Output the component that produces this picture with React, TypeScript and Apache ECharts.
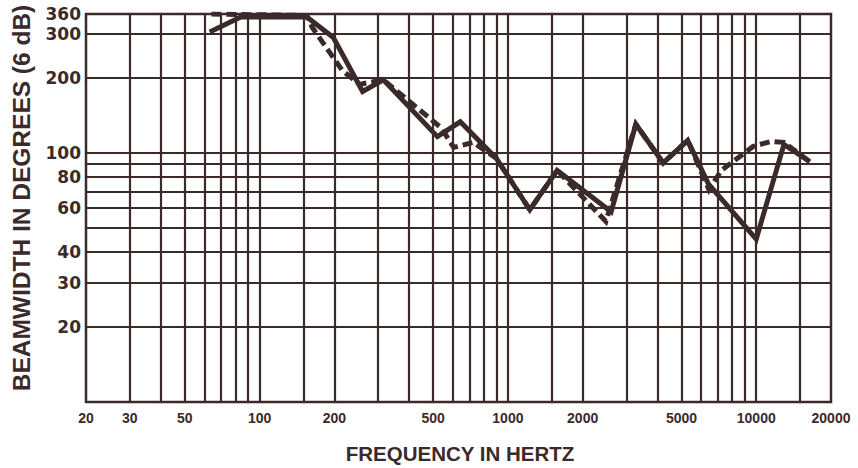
import React, { useEffect, useRef } from "react";
import * as echarts from "echarts";

// Tick labels and grid positions
const xLabelValues = [20, 30, 50, 100, 200, 500, 1000, 2000, 5000, 10000, 20000];
const xGridValues = [30, 40, 50, 60, 70, 80, 90, 100, 150, 200, 300, 400, 500, 600, 700, 800, 900, 1000, 1500, 2000, 3000, 4000, 5000, 6000, 7000, 8000, 9000, 10000, 15000];
const yLabelValues = [20, 30, 40, 60, 80, 100, 200, 300, 360];
const yGridValues = [20, 30, 40, 50, 60, 70, 80, 90, 100, 200, 300];

// Solid curve
const solidFreq = [63, 84, 155, 198, 260, 315, 520, 643, 898, 1225, 1578, 2604, 3275, 4220, 5295, 6415, 10000, 12930, 16440];
const solidBeam = [305, 350, 350, 290, 176, 196, 116, 133, 95, 59, 85, 58, 130, 91, 112, 75, 45, 108, 92];

// Dashed curve
const dashedFreq = [64, 155, 163, 215, 253, 315, 538, 605, 726, 898, 1225, 1578, 2480, 3275, 4220, 5295, 6450, 7240, 9720, 11500, 12930, 16440];
const dashedBeam = [360, 355, 318, 214, 188, 196, 126, 105, 110, 95, 59, 85, 53, 130, 91, 112, 71, 85, 106, 111, 110, 92];

const INK = "#3b2a2a";

export default function App() {
  const ref = useRef<HTMLDivElement>(null);
  useEffect(() => {
    if (!ref.current) return;
    const chart = echarts.init(ref.current, undefined, { renderer: "svg" });
    chart.setOption({
      animation: false,
      backgroundColor: "#ffffff",
      grid: {
        left: 86,
        right: 27,
        top: 14,
        bottom: 66,
        show: true,
        borderColor: INK,
        borderWidth: 2.5,
        backgroundColor: "transparent",
      },
      xAxis: {
        type: "log",
        logBase: 10,
        min: 20,
        max: 20000,
        axisLine: { show: false },
        axisTick: { show: false },
        splitLine: { show: false },
        axisLabel: {
          customValues: xLabelValues,
          showMinLabel: true,
          showMaxLabel: true,
          margin: 9,
          color: INK,
          fontFamily: "'Liberation Sans', Arial, sans-serif",
          fontWeight: "bold",
          fontSize: 14,
          formatter: (v: number) => String(Math.round(v)),
        },
      },
      yAxis: {
        type: "log",
        logBase: 10,
        min: 10,
        max: 360,
        axisLine: { show: false },
        axisTick: { show: false },
        splitLine: { show: false },
        axisLabel: {
          customValues: yLabelValues,
          showMinLabel: true,
          showMaxLabel: true,
          margin: 5,
          color: INK,
          fontFamily: "'DejaVu Sans', sans-serif",
          fontWeight: "bold",
          fontSize: 17,
          formatter: (v: number) => String(Math.round(v)),
        },
      },
      graphic: [
        {
          type: "text",
          x: 460,
          y: 453,
          style: {
            text: "FREQUENCY IN HERTZ",
            fill: INK,
            font: "bold 20.5px 'Liberation Sans', Arial, sans-serif",
            textAlign: "center",
            textVerticalAlign: "middle",
          },
        },
        {
          type: "text",
          x: 21,
          y: 198,
          rotation: Math.PI / 2,
          style: {
            text: "BEAMWIDTH IN DEGREES (6 dB)",
            fill: INK,
            font: "bold 24.5px 'Liberation Sans', Arial, sans-serif",
            textAlign: "center",
            textVerticalAlign: "middle",
          },
        },
      ],
      series: [
        {
          type: "line",
          name: "grid",
          data: [],
          z: 1,
          silent: true,
          markLine: {
            silent: true,
            symbol: ["none", "none"],
            label: { show: false },
            lineStyle: { color: INK, width: 2.2, type: "solid" },
            emphasis: { disabled: true },
            data: [
              ...xGridValues.map((v) => ({ xAxis: v })),
              ...yGridValues.map((v) => ({ yAxis: v })),
            ],
          },
        },
        {
          type: "line",
          name: "solid",
          z: 5,
          symbol: "none",
          data: solidFreq.map((f, i) => [f, solidBeam[i]]),
          lineStyle: { color: INK, width: 5, join: "miter" },
        },
        {
          type: "line",
          name: "dashed",
          z: 4,
          symbol: "none",
          data: dashedFreq.map((f, i) => [f, dashedBeam[i]]),
          lineStyle: { color: INK, width: 5, type: [10, 5], join: "miter" },
        },
      ],
    });
    return () => chart.dispose();
  }, []);
  return (
    <div
      ref={ref}
      style={{ position: "absolute", left: 0, top: 0, width: 858, height: 468 }}
    />
  );
}
